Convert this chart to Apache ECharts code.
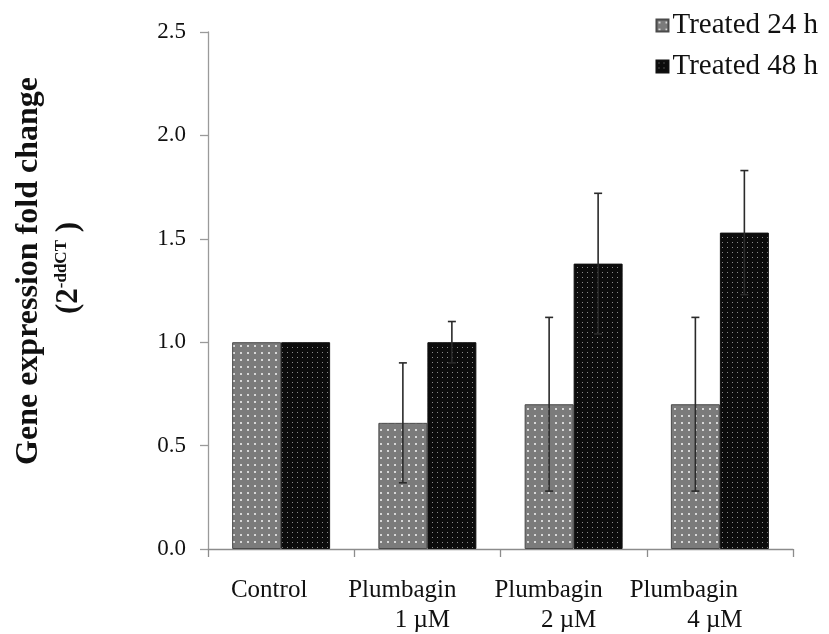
<!DOCTYPE html>
<html>
<head>
<meta charset="utf-8">
<script src="https://cdn.jsdelivr.net/npm/echarts@6/dist/echarts.min.js"></script>
<style>
  html, body { margin: 0; padding: 0; background: #fff; }
  #chart { width: 829px; height: 634px; }
</style>
</head>
<body>
<div id="chart"></div>
<script>
// Fold change of gene expression after plumbagin treatment
const categories = ['Control', 'Plumbagin\n1 µM', 'Plumbagin\n2 µM', 'Plumbagin\n4 µM'];
const seriesNames = ['Treated 24 h', 'Treated 48 h'];
const treated24 = [1.00, 0.61, 0.70, 0.70];
const treated48 = [1.00, 1.00, 1.38, 1.53];
const err24 = [0, 0.29, 0.42, 0.42];
const err48 = [0, 0.10, 0.34, 0.30];
const yTicks = [0, 0.5, 1.0, 1.5, 2.0, 2.5];

const FONT = '"Liberation Serif", "Times New Roman", serif';
const CAT_GAP = 0.33;

// dotted fills for the two bar series
function dotPattern(bg, dot, stepX, stepY, size) {
  const c = document.createElement('canvas');
  c.width = stepX; c.height = stepY;
  const ctx = c.getContext('2d');
  ctx.fillStyle = bg;
  ctx.fillRect(0, 0, stepX, stepY);
  ctx.fillStyle = dot;
  ctx.fillRect(Math.floor(stepX / 2 - size / 2), Math.floor(stepY / 2 - size / 2), size, size);
  return { image: c, repeat: 'repeat' };
}
const fill24 = dotPattern('#7b7b7b', '#d8d8d8', 7, 7, 2);
const fill48 = dotPattern('#0c0c0c', '#8a8a8a', 5, 5, 1);

function errData(values, errs, side) {
  return values.map((v, i) => [i, v, errs[i], side]);
}

function renderError(params, api) {
  const cat = api.value(0), v = api.value(1), e = api.value(2), side = api.value(3);
  if (!e) return { type: 'group', children: [] };
  const band = api.size([1, 0])[0];
  const barW = band * (1 - CAT_GAP) / 2;
  const cx = api.coord([cat, v])[0] + (side === 0 ? -barW / 2 : barW / 2);
  const yTop = api.coord([cat, v + e])[1];
  const yBot = api.coord([cat, v - e])[1];
  const cap = 4;
  const st = { stroke: '#2a2a2a', lineWidth: 1.6 };
  return {
    type: 'group',
    children: [
      { type: 'line', shape: { x1: cx, y1: yTop, x2: cx, y2: yBot }, style: st },
      { type: 'line', shape: { x1: cx - cap, y1: yTop, x2: cx + cap, y2: yTop }, style: st },
      { type: 'line', shape: { x1: cx - cap, y1: yBot, x2: cx + cap, y2: yBot }, style: st }
    ]
  };
}

const labelBase = { fontFamily: FONT, fontSize: 25, color: '#111', lineHeight: 30 };

const chart = echarts.init(document.getElementById('chart'), null, { renderer: 'canvas' });

chart.setOption({
  backgroundColor: '#fff',
  animation: false,
  grid: { left: 208, right: 36, top: 32, bottom: 85, containLabel: false },
  legend: {
    orient: 'vertical',
    right: 6,
    top: 6,
    itemWidth: 12,
    itemHeight: 12,
    itemGap: 12,
    icon: 'rect',
    textStyle: { fontFamily: FONT, fontSize: 29, color: '#111', padding: [0, 0, 0, -1] },
    data: seriesNames
  },
  xAxis: {
    type: 'category',
    data: categories,
    axisLine: { lineStyle: { color: '#8c8c8c', width: 1.3 } },
    axisTick: { show: true, alignWithLabel: false, length: 8, lineStyle: { color: '#8c8c8c', width: 1.3 } },
    axisLabel: {
      margin: 26,
      interval: 0,
      fontFamily: FONT,
      fontSize: 25,
      color: '#111',
      verticalAlign: 'top',
      formatter: function (val, idx) {
        const parts = val.split('\n');
        if (parts.length === 1) return '{c|' + parts[0] + '}\n{c| }';
        const top = idx === categories.length - 1 ? 'd' : 'a';
        return '{' + top + '|' + parts[0] + '}\n{b|' + parts[1] + '}';
      },
      rich: {
        a: Object.assign({}, labelBase, { padding: [0, 50, 0, 0] }),
        d: Object.assign({}, labelBase, { padding: [0, 72, 0, 0] }),
        b: Object.assign({}, labelBase, { padding: [0, 10, 0, 0] }),
        c: Object.assign({}, labelBase, { padding: [0, 24, 0, 0] })
      }
    }
  },
  yAxis: {
    type: 'value',
    min: yTicks[0],
    max: yTicks[yTicks.length - 1],
    interval: yTicks[1] - yTicks[0],
    splitLine: { show: false },
    axisLine: { show: true, lineStyle: { color: '#9a9a9a', width: 1.3 } },
    axisTick: { show: true, length: 8, lineStyle: { color: '#9a9a9a', width: 1.3 } },
    axisLabel: {
      margin: 22,
      fontFamily: FONT,
      fontSize: 23,
      color: '#111',
      formatter: v => v.toFixed(1)
    }
  },
  graphic: [
    {
      type: 'text',
      x: 29, y: 271,
      rotation: Math.PI / 2,
      style: {
        text: 'Gene expression fold change',
        font: 'bold 32px ' + FONT,
        fill: '#111',
        align: 'center',
        verticalAlign: 'middle'
      }
    },
    {
      type: 'text',
      x: 69, y: 268,
      rotation: Math.PI / 2,
      style: {
        text: '{p|(2}{s|-ddCT}{p| )}',
        align: 'center',
        verticalAlign: 'middle',
        fill: '#111',
        rich: {
          p: { fontFamily: FONT, fontWeight: 'bold', fontSize: 31, fill: '#111' },
          s: { fontFamily: FONT, fontWeight: 'bold', fontSize: 17, fill: '#111', verticalAlign: 'top' }
        }
      }
    }
  ],
  series: [
    {
      name: seriesNames[0],
      type: 'bar',
      data: treated24,
      barGap: '0%',
      barCategoryGap: (CAT_GAP * 100) + '%',
      itemStyle: { color: fill24, borderColor: '#4a4a4a', borderWidth: 1 },
      z: 2
    },
    {
      name: seriesNames[1],
      type: 'bar',
      data: treated48,
      barGap: '0%',
      barCategoryGap: (CAT_GAP * 100) + '%',
      itemStyle: { color: fill48, borderColor: '#111', borderWidth: 1 },
      z: 2
    },
    {
      type: 'custom',
      renderItem: renderError,
      data: errData(treated24, err24, 0).concat(errData(treated48, err48, 1)),
      encode: { x: 0, y: 1 },
      z: 5,
      silent: true
    }
  ]
});
</script>
</body>
</html>
